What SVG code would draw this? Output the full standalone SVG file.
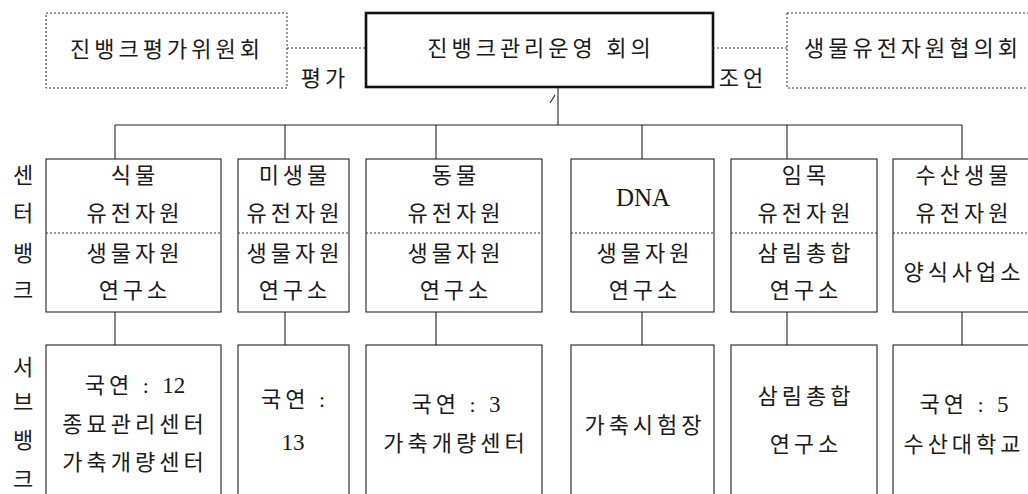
<svg xmlns="http://www.w3.org/2000/svg" width="1028" height="494" viewBox="0 0 1028 494">
<style>
text{font-family:"Liberation Serif","Noto Sans CJK KR",serif;font-size:22px;fill:#1a1a1a;text-anchor:middle;dominant-baseline:central;letter-spacing:4px}
.n{letter-spacing:0;font-size:23px}
.box{fill:#fff;stroke:#222;stroke-width:1.1}
.dot{fill:#fff;stroke:#333;stroke-width:1;stroke-dasharray:2,2}
.main{fill:#fff;stroke:#111;stroke-width:2.6}
.sep{stroke:#333;stroke-width:1;stroke-dasharray:2,2;fill:none}
.ln{stroke:#222;stroke-width:1.1;fill:none}
.dl{stroke:#333;stroke-width:1;stroke-dasharray:2,2;fill:none}
</style>
<rect width="1028" height="494" fill="#fff"/>
<g id="connectors">
<line class="dl" x1="287" y1="48" x2="366" y2="48"/>
<line class="dl" x1="713" y1="48" x2="787" y2="48"/>
<line class="ln" x1="558" y1="88" x2="558" y2="125"/>
<line class="ln" x1="550" y1="103" x2="555" y2="95"/>
<line class="ln" x1="115" y1="125" x2="962" y2="125"/>
<line class="ln" x1="115" y1="125" x2="115" y2="159"/>
<line class="ln" x1="285" y1="125" x2="285" y2="159"/>
<line class="ln" x1="436" y1="125" x2="436" y2="159"/>
<line class="ln" x1="642" y1="125" x2="642" y2="159"/>
<line class="ln" x1="787" y1="125" x2="787" y2="159"/>
<line class="ln" x1="962" y1="125" x2="962" y2="159"/>
<line class="ln" x1="115" y1="312" x2="115" y2="345"/>
<line class="ln" x1="285" y1="312" x2="285" y2="345"/>
<line class="ln" x1="436" y1="312" x2="436" y2="345"/>
<line class="ln" x1="642" y1="312" x2="642" y2="345"/>
<line class="ln" x1="787" y1="312" x2="787" y2="345"/>
<line class="ln" x1="962" y1="312" x2="962" y2="345"/>
<text x="325" y="78">평가</text>
<text x="743" y="78">조언</text>
</g>
<g id="eval">
<rect class="dot" x="46" y="13" width="241" height="75"/>
<text x="167" y="49">진뱅크평가위원회</text>
</g>
<g id="meeting">
<rect class="main" x="366" y="13" width="347" height="74"/>
<text x="541" y="48">진뱅크관리운영 회의</text>
</g>
<g id="council">
<rect class="dot" x="787" y="13" width="260" height="75"/>
<text x="913" y="48">생물유전자원협의회</text>
</g>
<g id="label-center">
<text x="25" y="175">센</text>
<text x="25" y="213">터</text>
<text x="25" y="253">뱅</text>
<text x="25" y="290">크</text>
</g>
<g id="label-sub">
<text x="25" y="367">서</text>
<text x="25" y="402">브</text>
<text x="25" y="440">뱅</text>
<text x="25" y="479">크</text>
</g>
<g id="c1">
<rect class="box" x="46" y="159" width="175" height="153"/>
<line class="sep" x1="46" y1="233" x2="221" y2="233"/>
<text x="135" y="175">식물</text>
<text x="135" y="213">유전자원</text>
<text x="135" y="253">생물자원</text>
<text x="135" y="290">연구소</text>
</g>
<g id="c2">
<rect class="box" x="238" y="159" width="111" height="153"/>
<line class="sep" x1="238" y1="233" x2="349" y2="233"/>
<text x="295" y="175">미생물</text>
<text x="295" y="213">유전자원</text>
<text x="295" y="253">생물자원</text>
<text x="295" y="290">연구소</text>
</g>
<g id="c3">
<rect class="box" x="366" y="159" width="176" height="153"/>
<line class="sep" x1="366" y1="233" x2="542" y2="233"/>
<text x="456" y="175">동물</text>
<text x="456" y="213">유전자원</text>
<text x="456" y="253">생물자원</text>
<text x="456" y="290">연구소</text>
</g>
<g id="c4">
<rect class="box" x="571" y="159" width="143" height="153"/>
<line class="sep" x1="571" y1="233" x2="714" y2="233"/>
<text x="643" y="197" class="n" style="font-size:25px">DNA</text>
<text x="645" y="253">생물자원</text>
<text x="645" y="290">연구소</text>
</g>
<g id="c5">
<rect class="box" x="731" y="159" width="146" height="153"/>
<line class="sep" x1="731" y1="233" x2="877" y2="233"/>
<text x="806" y="175">임목</text>
<text x="806" y="213">유전자원</text>
<text x="806" y="253">삼림총합</text>
<text x="806" y="290">연구소</text>
</g>
<g id="c6">
<rect class="box" x="893" y="159" width="150" height="153"/>
<line class="sep" x1="893" y1="233" x2="1043" y2="233"/>
<text x="964" y="175">수산생물</text>
<text x="964" y="213">유전자원</text>
<text x="964" y="272">양식사업소</text>
</g>
<g id="s1">
<rect class="box" x="46" y="345" width="175" height="160"/>
<text x="135" y="385">국연 : <tspan class="n">12</tspan></text>
<text x="135" y="424">종묘관리센터</text>
<text x="135" y="462">가축개량센터</text>
</g>
<g id="s2">
<rect class="box" x="238" y="345" width="111" height="160"/>
<text x="295" y="399">국연 :</text>
<text x="293" y="442" class="n">13</text>
</g>
<g id="s3">
<rect class="box" x="366" y="345" width="176" height="160"/>
<text x="456" y="404">국연 : <tspan class="n">3</tspan></text>
<text x="456" y="443">가축개량센터</text>
</g>
<g id="s4">
<rect class="box" x="571" y="345" width="143" height="160"/>
<text x="645" y="425">가축시험장</text>
</g>
<g id="s5">
<rect class="box" x="731" y="345" width="146" height="160"/>
<text x="806" y="396">삼림총합</text>
<text x="806" y="444">연구소</text>
</g>
<g id="s6">
<rect class="box" x="893" y="345" width="150" height="160"/>
<text x="964" y="404">국연 : <tspan class="n">5</tspan></text>
<text x="964" y="444">수산대학교</text>
</g>
</svg>
